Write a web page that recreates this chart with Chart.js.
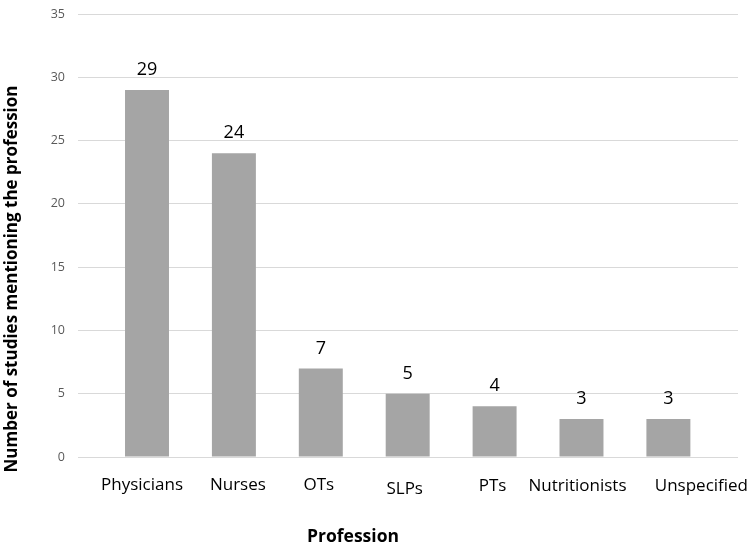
<!DOCTYPE html>
<html>
<head>
<meta charset="utf-8">
<script src="https://cdn.jsdelivr.net/npm/chart.js@4"></script>
<style>
  html, body { margin: 0; padding: 0; background: #fff; }
  #wrap { width: 750px; height: 546px; }
</style>
</head>
<body>
<div id="wrap"><canvas id="professionChart"></canvas></div>
<script>
const professions = ['Physicians', 'Nurses', 'OTs', 'SLPs', 'PTs', 'Nutritionists', 'Unspecified'];
const studyCounts = [29, 24, 7, 5, 4, 3, 3];
const yMax = 35;
const yStep = 5;

// the original's category labels were hand-placed; small nudges [dx, dy]
const labelNudge = {
    Physicians: [-5, 0], Nurses: [4, 0], OTs: [-2, 0], SLPs: [-3, 4],
    PTs: [-2, 1], Nutritionists: [-4, 1], Unspecified: [33, 1],
};

// numbers above the bars
const barValues = {
    id: 'barValues',
    afterDatasetsDraw(chart) {
        const ctx = chart.ctx;
        const meta = chart.getDatasetMeta(0);
        ctx.save();
        ctx.font = '18px "Open Sans"';
        ctx.fillStyle = '#000';
        ctx.textAlign = 'center';
        ctx.textBaseline = 'middle';
        meta.data.forEach((bar, i) => {
            ctx.fillText(String(studyCounts[i]), bar.x, bar.y - 20);
        });
        ctx.restore();
    },
};

// category labels and axis titles
const axisText = {
    id: 'axisText',
    afterDraw(chart) {
        const ctx = chart.ctx;
        const xs = chart.scales.x;
        ctx.save();
        ctx.fillStyle = '#000';
        ctx.textAlign = 'center';
        ctx.textBaseline = 'middle';
        ctx.font = '17px "Open Sans"';
        professions.forEach((name, i) => {
            const [dx, dy] = labelNudge[name] || [0, 0];
            ctx.fillText(name, xs.getPixelForTick(i) + dx, xs.top + 28 + dy);
        });
        ctx.font = 'bold 17.5px "Open Sans"';
        ctx.fillText('Profession', 353, 537);
        ctx.font = 'bold 17px "Open Sans"';
        ctx.translate(12, 279);
        ctx.rotate(-Math.PI / 2);
        ctx.fillText('Number of studies mentioning the profession', 0, 0);
        ctx.restore();
    },
};

document.addEventListener('DOMContentLoaded', () => {
    const ctx = document.getElementById('professionChart').getContext('2d');
    new Chart(ctx, {
        type: 'bar',
        data: {
            labels: professions,
            datasets: [{
                data: studyCounts,
                backgroundColor: '#a5a5a5',
                categoryPercentage: 1,
                barPercentage: 0.506,
            }],
        },
        options: {
            responsive: true,
            maintainAspectRatio: false,
            animation: false,
            layout: { padding: { top: 14, right: 12, left: 0, bottom: 0 } },
            plugins: {
                legend: { display: false },
                tooltip: { enabled: false },
            },
            scales: {
                x: {
                    grid: { display: false },
                    border: { display: false },
                    ticks: { display: false },
                    // bars sit inside a wider plot area than the categories need
                    afterBuildTicks: (s) => {
                        s._startValue = -0.794;
                        s._valueRange = 7.595;
                    },
                    afterFit: (s) => { s.height = 89; },
                },
                y: {
                    min: 0,
                    max: yMax,
                    grid: { color: '#d9d9d9', drawTicks: false },
                    border: { display: false },
                    ticks: {
                        stepSize: yStep,
                        font: { family: 'Open Sans', size: 12.5 },
                        color: '#595959',
                        padding: 13,
                    },
                    afterFit: (s) => {
                        s.width = 78;
                        s.paddingTop = 0;
                        s.paddingBottom = 0;
                    },
                },
            },
        },
        plugins: [barValues, axisText],
    });
});
</script>
</body>
</html>
